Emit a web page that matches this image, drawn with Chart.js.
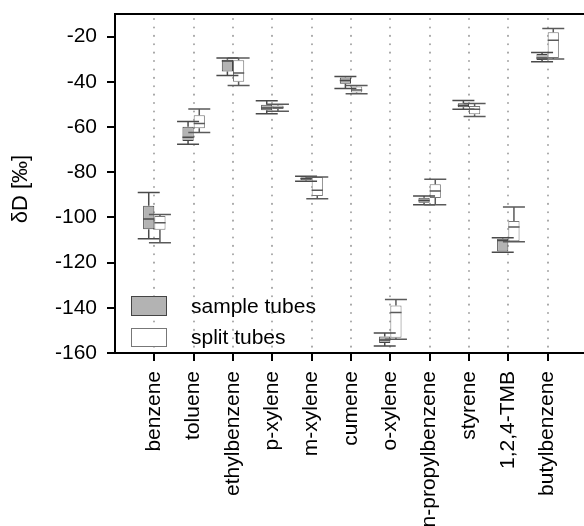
<!DOCTYPE html>
<html>
<head>
<meta charset="utf-8">
<script src="https://cdn.jsdelivr.net/npm/chart.js@4.4.1/dist/chart.umd.min.js"></script>
<style>
  html, body { margin: 0; padding: 0; background: #fff; overflow: hidden; }
  canvas { display: block; }
</style>
</head>
<body>
<canvas id="chart" width="587" height="526"></canvas>
<script>
        // Categories and axis ticks
        const categories = ['benzene', 'toluene', 'ethylbenzene', 'p-xylene', 'm-xylene', 'cumene',
            'o-xylene', 'n-propylbenzene', 'styrene', '1,2,4-TMB', 'butylbenzene'];
        const yTicks = [-160, -140, -120, -100, -80, -60, -40, -20];

        // sample tubes (whisker max, box top, median, box bottom, whisker min)
        const sampleMax    = [-89.0, -57.6, -29.5, -48.4, -81.8, -37.6, -151.2, -90.5, -48.3, -109.0, -27.0];
        const sampleQ3     = [-94.8, -59.9, -30.2, -50.2, -82.3, -38.1, -152.7, -91.3, -49.5, -109.5, -27.7];
        const sampleMedian = [-100.7, -64.5, -30.8, -51.6, -82.8, -39.4, -154.2, -92.5, -50.5, -110.2, -29.5];
        const sampleQ1     = [-105.2, -66.2, -35.4, -52.6, -83.6, -40.9, -155.6, -93.5, -51.3, -115.1, -30.4];
        const sampleMin    = [-109.5, -67.6, -37.2, -54.1, -84.0, -43.0, -156.9, -94.4, -52.1, -115.4, -31.1];

        // split tubes
        const splitMax    = [-98.7, -52.0, -29.5, -49.9, -82.1, -41.6, -136.3, -83.1, -49.6, -95.4, -16.4];
        const splitQ3     = [-99.4, -54.8, -30.5, -50.5, -82.1, -42.1, -139.0, -85.3, -50.7, -101.6, -18.1];
        const splitMedian = [-102.4, -58.4, -36.1, -51.4, -88.0, -43.6, -142.1, -88.3, -52.1, -104.3, -21.6];
        const splitQ1     = [-105.5, -60.6, -40.0, -52.0, -90.5, -44.7, -153.2, -91.4, -54.4, -110.5, -29.5];
        const splitMin    = [-111.2, -62.4, -41.6, -53.0, -91.7, -45.3, -153.9, -94.4, -55.3, -110.8, -29.9];

        const FONT = "'Liberation Sans', Arial, sans-serif";

        // Whiskers, medians, dotted guides, legend, frame
        const boxExtras = {
            id: 'boxExtras',
            beforeDatasetsDraw(chart) {
                const { ctx, chartArea, scales: { x } } = chart;
                ctx.save();
                ctx.strokeStyle = '#a6a6a6';
                ctx.lineWidth = 2;
                ctx.lineCap = 'round';
                ctx.setLineDash([0.1, 8.3]);
                categories.forEach((c, i) => {
                    const px = Math.round(x.getPixelForValue(i + 1));
                    ctx.beginPath();
                    ctx.moveTo(px, chartArea.top + 5);
                    ctx.lineTo(px, chartArea.bottom);
                    ctx.stroke();
                });
                ctx.restore();
            },
            afterDatasetsDraw(chart) {
                const { ctx, scales: { y } } = chart;
                const series = [
                    { max: sampleMax, q3: sampleQ3, med: sampleMedian, q1: sampleQ1, min: sampleMin, color: '#4a4a4a' },
                    { max: splitMax, q3: splitQ3, med: splitMedian, q1: splitQ1, min: splitMin, color: '#5a5a5a' }
                ];
                ctx.save();
                series.forEach((s, di) => {
                    const meta = chart.getDatasetMeta(di);
                    meta.data.forEach((bar, i) => {
                        const { x: bx, width } = bar.getProps(['x', 'width'], true);
                        const cap = 11;
                        const yMax = y.getPixelForValue(s.max[i]);
                        const yQ3 = y.getPixelForValue(s.q3[i]);
                        const yMed = y.getPixelForValue(s.med[i]);
                        const yQ1 = y.getPixelForValue(s.q1[i]);
                        const yMin = y.getPixelForValue(s.min[i]);
                        ctx.strokeStyle = s.color;
                        ctx.lineWidth = 1.5;
                        ctx.beginPath();
                        ctx.moveTo(bx, yQ3); ctx.lineTo(bx, yMax);
                        ctx.moveTo(bx, yQ1); ctx.lineTo(bx, yMin);
                        ctx.moveTo(bx - cap, yMax); ctx.lineTo(bx + cap, yMax);
                        ctx.moveTo(bx - cap, yMin); ctx.lineTo(bx + cap, yMin);
                        ctx.moveTo(bx - width / 2, yMed); ctx.lineTo(bx + width / 2, yMed);
                        ctx.stroke();
                    });
                });
                ctx.restore();
            },
            afterDraw(chart) {
                const { ctx, chartArea } = chart;
                ctx.save();
                // top frame line
                ctx.fillStyle = '#000';
                ctx.fillRect(chartArea.left - 1, chartArea.top - 1, chartArea.right - chartArea.left + 1, 2);

                // legend
                const lx = chartArea.left + 16;
                const items = [
                    { label: 'sample tubes', fill: '#b3b3b3', stroke: '#444', top: chartArea.bottom - 57, h: 19, base: chartArea.bottom - 40 },
                    { label: 'split tubes', fill: '#fff', stroke: '#777', top: chartArea.bottom - 25, h: 18, base: chartArea.bottom - 9 }
                ];
                ctx.font = '21px ' + FONT;
                ctx.textBaseline = 'alphabetic';
                ctx.textAlign = 'left';
                items.forEach(it => {
                    ctx.fillStyle = it.fill;
                    ctx.fillRect(lx, it.top, 35, it.h);
                    ctx.strokeStyle = it.stroke;
                    ctx.lineWidth = 1;
                    ctx.strokeRect(lx + 0.5, it.top + 0.5, 35, it.h);
                    ctx.fillStyle = '#000';
                    ctx.fillText(it.label, lx + 60, it.base);
                });

                // y axis title
                ctx.translate(21, 189);
                ctx.rotate(-Math.PI / 2);
                ctx.font = '22px ' + FONT;
                ctx.textAlign = 'center';
                ctx.textBaseline = 'middle';
                ctx.fillStyle = '#000';
                ctx.fillText('\u03b4D [\u2030]', 0, 0);
                ctx.restore();
            }
        };

        const ctx = document.getElementById('chart').getContext('2d');
        const chart = new Chart(ctx, {
            type: 'bar',
            data: {
                datasets: [{
                    label: 'sample tubes',
                    data: categories.map((c, i) => ({ x: i + 1, y: [sampleQ1[i], sampleQ3[i]] })),
                    backgroundColor: '#b3b3b3',
                    borderColor: '#444',
                    borderWidth: 1,
                    borderSkipped: false
                }, {
                    label: 'split tubes',
                    data: categories.map((c, i) => ({ x: i + 1, y: [splitQ1[i], splitQ3[i]] })),
                    backgroundColor: '#ffffff',
                    borderColor: '#777',
                    borderWidth: 1,
                    borderSkipped: false
                }]
            },
            options: {
                responsive: false,
                animation: false,
                barPercentage: 1,
                categoryPercentage: 0.57,
                layout: { padding: { top: 14, right: 0, left: 0, bottom: 0 } },
                plugins: {
                    legend: { display: false },
                    tooltip: { enabled: false }
                },
                scales: {
                    x: {
                        type: 'linear',
                        min: 0,
                        max: 12,
                        offset: false,
                        afterBuildTicks: (scale) => {
                            scale.ticks = categories.map((c, i) => ({ value: i + 1 }));
                        },
                        afterFit: (scale) => { scale.height = 173; },
                        grid: {
                            offset: false,
                            drawOnChartArea: false,
                            drawTicks: true,
                            tickLength: 8,
                            tickColor: '#000',
                            tickWidth: 2,
                            lineWidth: 2
                        },
                        border: { display: true, color: '#000', width: 2 },
                        ticks: {
                            autoSkip: false,
                            minRotation: 90,
                            maxRotation: 90,
                            padding: 10,
                            color: '#000',
                            font: { family: FONT, size: 21 },
                            callback: (value) => categories[value - 1]
                        }
                    },
                    y: {
                        min: -160,
                        max: -10,
                        afterBuildTicks: (scale) => {
                            scale.ticks = yTicks.map(v => ({ value: v }));
                        },
                        afterFit: (scale) => {
                            scale.width = 115;
                            scale.paddingTop = 0;
                            scale.paddingBottom = 0;
                        },
                        grid: {
                            drawOnChartArea: false,
                            drawTicks: true,
                            tickLength: 8,
                            tickColor: '#000',
                            tickWidth: 2,
                            lineWidth: 2
                        },
                        border: { display: true, color: '#000', width: 2 },
                        ticks: {
                            padding: 10,
                            color: '#000',
                            font: { family: FONT, size: 21 }
                        }
                    }
                }
            },
            plugins: [boxExtras]
        });
</script>
</body>
</html>
